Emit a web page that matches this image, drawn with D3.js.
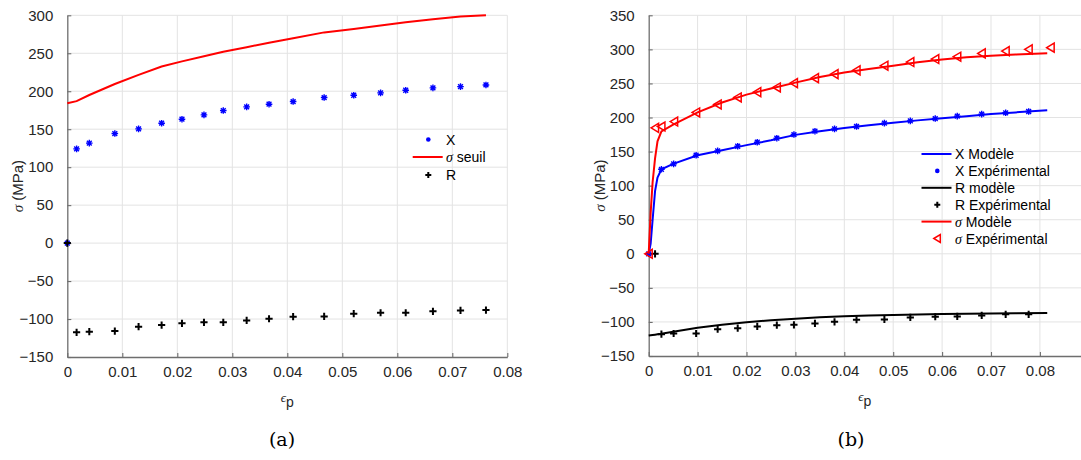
<!DOCTYPE html>
<html><head><meta charset="utf-8">
<script src="https://cdn.jsdelivr.net/npm/d3@7"></script>
<style>
body{margin:0;background:#fff;}
text{font-family:"Liberation Sans",Arial,sans-serif;}
</style></head>
<body><svg id="c" width="1081" height="460"></svg>
<script>
// ---------- data: panel (a) ----------
const epsA   = [0, 0.00169, 0.0040, 0.00864, 0.01296, 0.01715, 0.02085, 0.02485, 0.02836, 0.03261, 0.03668, 0.04106, 0.0467, 0.05208, 0.05696, 0.06153, 0.06648, 0.07149, 0.07612];
const xA     = [0, 124.1, 131.6, 144.3, 150.4, 157.9, 163.2, 168.9, 174.6, 179.4, 182.9, 186.4, 191.7, 194.7, 197.8, 201.3, 204.4, 206.1, 208.3];
const rA     = [0, -117.5, -116.7, -115.8, -110.1, -107.9, -105.7, -104.4, -104.4, -101.8, -99.6, -96.9, -96.5, -93, -91.7, -91.7, -89.9, -88.6, -88.2];
const seuilA = [184.2, 187, 195, 209.5, 221.5, 232.5, 239.3, 246, 252, 258, 263.9, 269.7, 277.5, 282, 286.7, 290.9, 294.8, 298.3, 300];
const xTicksA = [0, 0.01, 0.02, 0.03, 0.04, 0.05, 0.06, 0.07, 0.08];
const yTicksA = [-150, -100, -50, 0, 50, 100, 150, 200, 250, 300];

// ---------- data: panel (b) ----------
const epsExpB  = [0, 0.0026, 0.0051, 0.0097, 0.0141, 0.0182, 0.0222, 0.0262, 0.0297, 0.034, 0.038, 0.0425, 0.0482, 0.0535, 0.0586, 0.0631, 0.0681, 0.073, 0.0777];
const xExpB    = [0, 124, 131.9, 144.6, 151, 157.8, 163.7, 169.6, 175, 179.9, 183.3, 186.8, 191.7, 195.1, 198.5, 202, 204.9, 206.9, 208.8];
const epsRExpB = [0.0013, 0.0026, 0.0051, 0.0097, 0.0141, 0.0182, 0.0222, 0.0262, 0.0297, 0.034, 0.038, 0.0425, 0.0482, 0.0535, 0.0586, 0.0631, 0.0681, 0.073, 0.0777];
const rExpB    = [0, -117.9, -117, -117, -110.6, -109.1, -106.6, -104.7, -104.2, -102.2, -99.8, -96.8, -96.3, -93.4, -92.4, -91.9, -90.4, -88.9, -88.9];
const epsSExpB = [0, 0.0013, 0.0026, 0.0052, 0.0097, 0.0141, 0.0182, 0.0222, 0.0262, 0.0297, 0.034, 0.038, 0.0425, 0.0482, 0.0535, 0.0586, 0.0631, 0.0681, 0.073, 0.0777, 0.0822];
const sExpB    = [0, 184.8, 186.8, 194.1, 207.4, 219.1, 229.4, 237.3, 244.1, 250.5, 257.8, 263.7, 269.1, 276, 281.4, 285.8, 289.2, 294.1, 297.5, 300, 302.5];
const epsModB  = [0, 0.0004, 0.0008, 0.0013, 0.0018, 0.0026, 0.005, 0.01, 0.015, 0.02, 0.025, 0.03, 0.035, 0.04, 0.045, 0.05, 0.055, 0.06, 0.065, 0.07, 0.075, 0.0815];
const xModB    = [0, 15, 50, 92, 112, 124, 132, 144.5, 152, 159.5, 166.5, 174.5, 180, 184.5, 188.5, 192.3, 195.8, 199, 202, 205, 207.5, 210.5];
const rModB    = [-120, -119.6, -119.2, -118.7, -118.2, -117.4, -114.5, -108.5, -104, -100.3, -97.5, -95.2, -93.3, -91.8, -90.7, -89.8, -89, -88.5, -88, -87.7, -87.4, -87];
const sModB    = [0, 60, 105, 140, 165, 179.5, 189.5, 207.5, 222, 233.6, 242.6, 251.2, 259.5, 266, 271.3, 276, 281, 285, 288.3, 290.8, 292.5, 294.2];
const xTicksB = [0, 0.01, 0.02, 0.03, 0.04, 0.05, 0.06, 0.07, 0.08];
const yTicksB = [-150, -100, -50, 0, 50, 100, 150, 200, 250, 300, 350];

const svg = d3.select("#c");
svg.append("rect").attr("width",1081).attr("height",460).attr("fill","#fff");

const BLUE="#0000ff", RED="#ff0000", BLACK="#000000";
const GRID="#e3e3e3", AXIS="#6e6e6e", TXT="#262626";

function asterisk(g, x, y, c){
  const r=3.3, d=2.4;
  g.append("path").attr("d",`M${x-r},${y}H${x+r}M${x},${y-r}V${y+r}M${x-d},${y-d}L${x+d},${y+d}M${x-d},${y+d}L${x+d},${y-d}`)
   .attr("stroke",c).attr("stroke-width",1.4).attr("fill","none");
}
function plus(g, x, y, c){
  const r=3.6;
  g.append("path").attr("d",`M${x-r},${y}H${x+r}M${x},${y-r}V${y+r}`)
   .attr("stroke",c).attr("stroke-width",2).attr("fill","none");
}
function triL(g, x, y, c){
  g.append("path").attr("d",`M${x-4},${y}L${x+3.5},${y-4.5}L${x+3.5},${y+4.5}Z`)
   .attr("stroke",c).attr("stroke-width",1.5).attr("fill","none");
}

function panel(cfg){
  const g = svg.append("g");
  const x = d3.scaleLinear().domain(cfg.xdom).range([cfg.x0, cfg.x1]);
  const y = d3.scaleLinear().domain(cfg.ydom).range([cfg.y1, cfg.y0]);
  // grid
  g.append("g").selectAll("line").data(cfg.xticks.filter(d=>d>0).concat(cfg.xgridExtra||[])).join("line")
    .attr("x1",d=>x(d)).attr("x2",d=>x(d)).attr("y1",cfg.y0).attr("y2",cfg.y1)
    .attr("stroke",GRID).attr("stroke-width",1);
  g.append("g").selectAll("line").data(cfg.yticks.filter(d=>d>cfg.ydom[0])).join("line")
    .attr("x1",cfg.x0).attr("x2",cfg.x1).attr("y1",d=>y(d)).attr("y2",d=>y(d))
    .attr("stroke",GRID).attr("stroke-width",1);
  // axes
  const ax = g.append("g").attr("transform",`translate(0,${cfg.y1})`)
    .call(d3.axisBottom(x).tickValues(cfg.xticks).tickSize(-4).tickPadding(9).tickFormat(d=>d===0?"0":d3.format(".2f")(d).replace(/0$/,"")).tickSizeOuter(0));
  const ay = g.append("g").attr("transform",`translate(${cfg.x0},0)`)
    .call(d3.axisLeft(y).tickValues(cfg.yticks).tickSize(-4).tickPadding(14).tickFormat(d3.format("d")).tickSizeOuter(0));
  [ax,ay].forEach(a=>{
    a.select(".domain").attr("stroke",AXIS).attr("stroke-width",1.3);
    a.selectAll(".tick line").attr("stroke",AXIS).attr("stroke-width",1.1);
    a.selectAll(".tick text").attr("fill",TXT).style("font-size","15px").style("font-family","'Liberation Sans',Arial,sans-serif");
  });
  // labels
  const yl = g.append("text").attr("transform",`translate(${cfg.x0-44},${(cfg.y0+cfg.y1)/2}) rotate(-90)`)
    .attr("text-anchor","middle").attr("fill",TXT).style("font-size","15px");
  yl.append("tspan").text("σ").style("font-family","'Liberation Serif',serif").style("font-style","italic").style("font-size","15px");
  yl.append("tspan").text(" (MPa)");
  const xl = g.append("text").attr("x",(cfg.x0+Math.min(cfg.x1,1081))/2).attr("y",cfg.y1+45)
    .attr("text-anchor","middle").attr("fill",TXT).style("font-size","15px");
  xl.append("tspan").text("ϵ").style("font-family","'Liberation Serif',serif").style("font-style","italic").style("font-size","13px");
  xl.append("tspan").text("p").attr("dy",5).style("font-size","14px");
  svg.append("text").attr("x",cfg.capX).attr("y",446).attr("text-anchor","middle")
    .style("font-family","'DejaVu Serif',serif").style("font-size","19px").attr("fill","#000").text(cfg.cap);
  return {g,x,y};
}

// ---------- panel (a) ----------
const A = panel({xdom:[0,0.08], ydom:[-150,300], x0:67.3, x1:507.3, y0:15.3, y1:357,
  xticks:xTicksA, yticks:yTicksA, capX:282, cap:"(a)"});
const lineA = d3.line().x(d=>A.x(d[0])).y(d=>A.y(d[1]));
A.g.append("path").attr("d",lineA(epsA.map((e,i)=>[e,seuilA[i]])))
  .attr("fill","none").attr("stroke",RED).attr("stroke-width",2);
epsA.forEach((e,i)=>asterisk(A.g, A.x(e), A.y(xA[i]), BLUE));
epsA.forEach((e,i)=>plus(A.g, A.x(e), A.y(rA[i]), BLACK));
// legend (a)
{
  const lg = svg.append("g");
  const rows = [
    {t:"X", y:139.5, k:"dot", c:BLUE},
    {t:"σ", t2:" seuil", y:157, k:"line", c:RED},
    {t:"R", y:175, k:"plus", c:BLACK}];
  rows.forEach(r=>{
    if(r.k==="dot") lg.append("circle").attr("cx",428.3).attr("cy",r.y).attr("r",2.3).attr("fill",r.c);
    if(r.k==="line") lg.append("line").attr("x1",412.7).attr("x2",442.7).attr("y1",r.y).attr("y2",r.y).attr("stroke",r.c).attr("stroke-width",2);
    if(r.k==="plus") lg.append("path").attr("d",`M${425.3},${r.y}H${431.3}M${428.3},${r.y-3}V${r.y+3}`).attr("stroke",r.c).attr("stroke-width",2);
    const t = lg.append("text").attr("x",446).attr("y",r.y+5).attr("fill","#000").style("font-size","14px");
    if(r.t2){ t.append("tspan").text(r.t).style("font-family","'Liberation Serif',serif").style("font-style","italic"); t.append("tspan").text(r.t2);} else t.text(r.t);
  });
}

// ---------- panel (b) ----------
const B = panel({xdom:[0,0.09], ydom:[-150,350], x0:648.7, x1:1088.8, y0:15.3, y1:356,
  xticks:xTicksB, yticks:yTicksB, capX:851, cap:"(b)"});
const lineB = d3.line().x(d=>B.x(d[0])).y(d=>B.y(d[1]));
B.g.append("path").attr("d",lineB(epsModB.map((e,i)=>[e,xModB[i]]))).attr("fill","none").attr("stroke",BLUE).attr("stroke-width",2);
epsExpB.forEach((e,i)=>asterisk(B.g, B.x(e), B.y(xExpB[i]), BLUE));
B.g.append("path").attr("d",lineB(epsModB.map((e,i)=>[e,rModB[i]]))).attr("fill","none").attr("stroke",BLACK).attr("stroke-width",2);
epsRExpB.forEach((e,i)=>plus(B.g, B.x(e), B.y(rExpB[i]), BLACK));
B.g.append("path").attr("d",lineB(epsModB.map((e,i)=>[e,sModB[i]]))).attr("fill","none").attr("stroke",RED).attr("stroke-width",2);
epsSExpB.forEach((e,i)=>triL(B.g, B.x(e), B.y(sExpB[i]), RED));
// legend (b)
{
  const lg = svg.append("g");
  const rows = [
    {t:"X Modèle", k:"line", c:BLUE},
    {t:"X Expérimental", k:"dot", c:BLUE},
    {t:"R modèle", k:"line", c:BLACK},
    {t:"R Expérimental", k:"plus", c:BLACK},
    {s:true, t:" Modèle", k:"line", c:RED},
    {s:true, t:" Expérimental", k:"tri", c:RED}];
  rows.forEach((r,i)=>{
    const yy = 154 + i*16.9, mx = 937.3;
    if(r.k==="line") lg.append("line").attr("x1",921.5).attr("x2",951.5).attr("y1",yy).attr("y2",yy).attr("stroke",r.c).attr("stroke-width",2);
    if(r.k==="dot") lg.append("circle").attr("cx",mx).attr("cy",yy).attr("r",2.3).attr("fill",r.c);
    if(r.k==="plus") lg.append("path").attr("d",`M${mx-3},${yy}H${mx+3}M${mx},${yy-3}V${yy+3}`).attr("stroke",r.c).attr("stroke-width",2);
    if(r.k==="tri") lg.append("path").attr("d",`M${mx-3.5},${yy}L${mx+3},${yy-4}L${mx+3},${yy+4}Z`).attr("stroke",r.c).attr("stroke-width",1.5).attr("fill","none");
    const t = lg.append("text").attr("x",955).attr("y",yy+5).attr("fill","#000").style("font-size","14px");
    if(r.s){ t.append("tspan").text("σ").style("font-family","'Liberation Serif',serif").style("font-style","italic"); t.append("tspan").text(r.t);} else t.text(r.t);
  });
}
</script></body></html>
